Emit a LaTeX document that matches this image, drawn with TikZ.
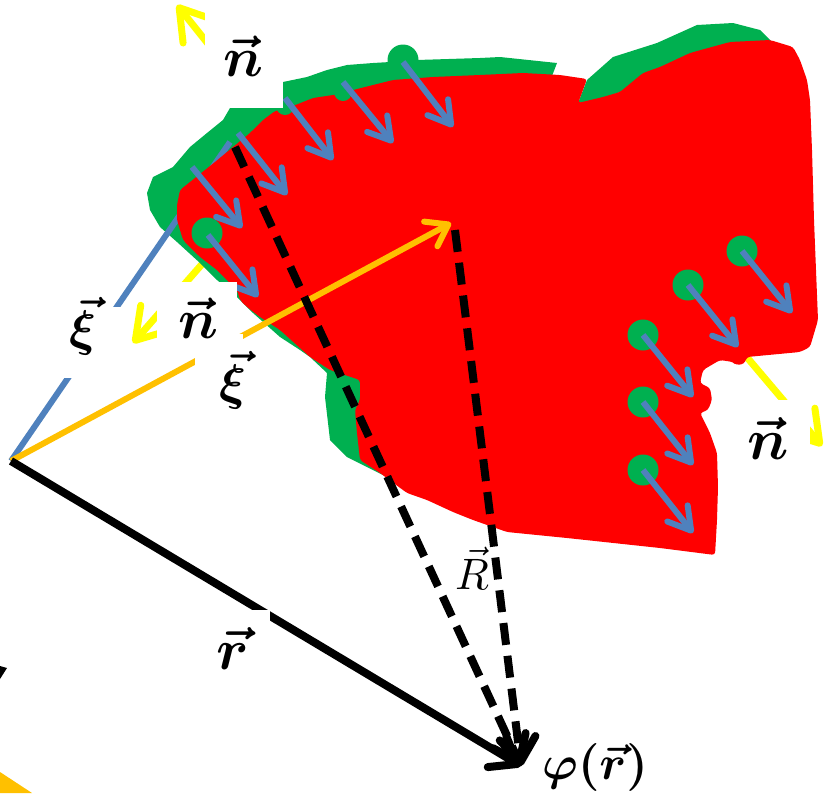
\documentclass[tikz,border=0pt]{standalone}
\usepackage{graphicx}
\usetikzlibrary{arrows.meta}
\definecolor{cred}{HTML}{FF0000}
\definecolor{cgreen}{HTML}{00B050}
\definecolor{cblue}{HTML}{4F81BD}
\definecolor{corange}{HTML}{FFC000}
\definecolor{cyellow}{HTML}{FFFF00}
\tikzset{
  yarr/.style={draw=cyellow, line width=7pt, line cap=round, -{Straight Barb[length=30pt,width=38pt,round]}},
  barr/.style={draw=cblue, line width=6pt, -{Straight Barb[length=22pt,width=26pt,round]}},
  oarr/.style={draw=corange, line width=6pt, -{Straight Barb[length=20pt,width=28pt,round]}},
  karr/.style={draw=black, line width=8pt, -{Straight Barb[length=24pt,width=36pt,round]}},
  kdash/.style={karr, dash pattern=on 22pt off 11pt},
  bline/.style={draw=cblue, line width=6pt},
  gdot/.style={fill=cgreen},
  wbox/.style={fill=white},
  lbl/.style={inner sep=0pt, text=black},
}
\begin{document}
\begin{tikzpicture}[x=1pt,y=-1pt,line join=round]
\useasboundingbox (0,0) rectangle (825,793);
\clip (0,0) rectangle (825,793);

% key points
\coordinate (O) at (11,461);
\coordinate (P) at (521,766);
\coordinate (S1) at (235,147);
\coordinate (S2) at (455,230);
\coordinate (XiB) at (230,142);
\coordinate (XiO) at (451,223);

% yellow outward normals
\coordinate (yA0) at (233,75);  \coordinate (yA1) at (177,5);
\coordinate (yB0) at (210,255); \coordinate (yB1) at (133,343);
\coordinate (yC0) at (745,355); \coordinate (yC1) at (822,446);
\draw[yarr] (yA0) -- (yA1);
\draw[yarr] (yB0) -- (yB1);
\draw[yarr] (yC0) -- (yC1);

% green rim
\fill[cgreen] (552,76) -- (557,63) -- (500,57) -- (480,58) -- (417,60) -- (390,62) -- (373,63)
  -- (347,65) -- (327,70) -- (307,77) -- (283,82) -- (260,90) -- (240,100) -- (230,108)
  -- (223,120) -- (207,133) -- (190,147) -- (173,167) -- (153,177) -- (147,193) -- (150,210)
  -- (160,227) -- (177,242) -- (200,263) -- (217,280) -- (237,297) -- (253,313) -- (280,337)
  -- (300,350) -- (310,357) -- (327,373) -- (325,397) -- (330,440) -- (347,457) -- (367,467)
  -- (385,476) -- (400,400) -- (350,250) -- (450,110) -- cycle;
\fill[cgreen] (578,103) -- (587,80) -- (613,57) -- (657,43) -- (697,25) -- (733,23) -- (760,30)
  -- (772,42) -- (730,50) -- (650,80) -- (600,100) -- cycle;

% blue xi
\draw[bline] (O) -- (XiB);

% red body
\fill[cred, rounded corners=3pt] (177,205) -- (180,190) -- (195,178) -- (215,162) -- (233,147)
  -- (250,133) -- (263,120) -- (275,111) -- (293,106) -- (313,98) -- (340,94) -- (357,89)
  -- (393,80) -- (433,77) -- (480,75) -- (523,73) -- (560,75) -- (587,79) -- (580,98)
  -- (578,103) -- (603,97) -- (620,92) -- (643,73) -- (660,67) -- (690,53) -- (730,42)
  -- (770,40) -- (793,47) -- (800,60) -- (807,80) -- (810,100) -- (812,150) -- (814,220)
  -- (818,320) -- (810,347) -- (800,352) -- (747,357) -- (744,364) -- (736,365) -- (733,362)
  -- (720,360) -- (703,370) -- (700,383) -- (710,388) -- (712,400) -- (708,410) -- (700,413)
  -- (710,433) -- (717,453) -- (718,487) -- (717,520) -- (715,555) -- (660,548) -- (567,538)
  -- (507,532) -- (473,520) -- (453,512) -- (427,500) -- (407,493) -- (380,473) -- (360,460)
  -- (357,433) -- (355,410) -- (360,400) -- (360,380) -- (330,370) -- (310,357) -- (280,330)
  -- (260,317) -- (247,307) -- (240,300) -- (237,290) -- (217,270) -- (200,257) -- (183,240)
  -- (177,220) -- cycle;

% green bumps on the rim
\fill[gdot] (285,106) circle (9);
\fill[gdot] (343,92) circle (9);

% orange xi
\draw[oarr] (O) -- (XiO);

% black vectors
\draw[kdash] (S1) -- (P);
\draw[kdash] (S2) -- (P);
\draw[karr] (O) -- (P);

% green dots
\foreach \p in {(403,60),(207,233),(742,251),(688,285),(643,335),(643,402),(643,470)}
  \fill[gdot] \p circle (15.5);

% blue inward normals
\draw[barr] (192,167) -- (242,228);
\draw[barr] (238,133) -- (287,195);
\draw[barr] (285,98) -- (333,160);
\draw[barr] (343,82) -- (393,143);
\draw[barr] (403,62) -- (453,127);
\draw[barr] (208,235) -- (258,297);
\draw[barr] (742,251) -- (792,313);
\draw[barr] (688,285) -- (738,347);
\draw[barr] (643,335) -- (693,397);
\draw[barr] (643,402) -- (693,465);
\draw[barr] (643,470) -- (693,533);

% white label backgrounds
\fill[wbox] (205,0) rectangle (283,108);
\fill[wbox] (157,282) rectangle (237,345);
\fill[wbox] (55,307) rectangle (125,378);
\fill[wbox] (195,334) rectangle (243,415);
\fill[wbox] (740,400) rectangle (810,470);
\fill[wbox] (200,610) rectangle (270,680);

% labels
\node[lbl] (nTop) at (243,56) {\scalebox{5.6}{\boldmath$\vec{n}$}};
\node[lbl] (nLeft) at (198,318) {\scalebox{5.6}{\boldmath$\vec{n}$}};
\node[lbl] (nRight) at (768,438) {\scalebox{5.8}{\boldmath$\vec{n}$}};
\node[lbl] (xiB) at (83,326) {\scalebox{5}{\boldmath$\vec{\xi}$}};
\node[lbl] (xiO) at (233,380) {\scalebox{5}{\boldmath$\vec{\xi}$}};
\node[lbl] (rLab) at (233,648) {\scalebox{5.8}{\boldmath$\vec{r}$}};
\node[lbl] (RLab) at (472,568) {\scalebox{4.4}{$\vec{R}$}};
\node[lbl] (phiLab) at (595,767) {\scalebox{4.8}{\boldmath$\varphi(\vec{r})$}};

% cut-off fragments at the lower left edge
\fill[corange] (0,772) -- (32,793) -- (0,793) -- cycle;
\fill[black] (0,666) -- (7,668) -- (0,679) -- cycle;
\end{tikzpicture}
\end{document}
